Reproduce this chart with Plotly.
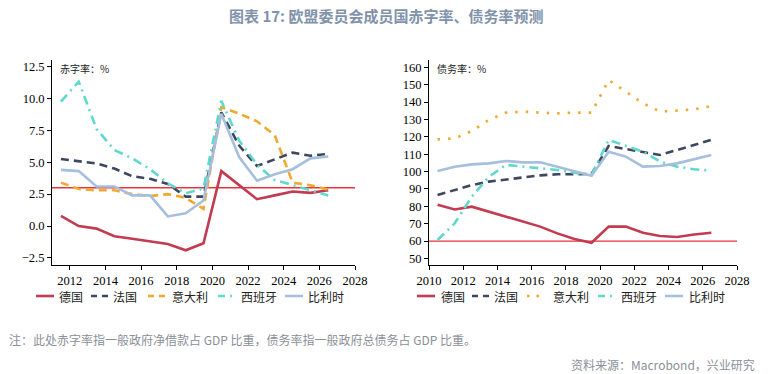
import plotly.graph_objects as go

# ---- data ----
years_def = list(range(2011, 2027))
years_debt = list(range(2010, 2027))
countries = ["德国", "法国", "意大利", "西班牙", "比利时"]

deficit_de = [0.8, 0.0, -0.2, -0.8, -1.0, -1.2, -1.4, -1.9, -1.35, 4.3, 3.2, 2.1, 2.4, 2.7, 2.6, 2.8]
deficit_fr = [5.25, 5.1, 4.9, 4.5, 3.9, 3.7, 3.3, 2.3, 2.3, 8.9, 6.3, 4.7, 5.2, 5.75, 5.5, 5.65]
deficit_it = [3.4, 2.9, 2.8, 2.8, 2.5, 2.35, 2.5, 2.2, 1.35, 9.3, 8.8, 8.2, 7.1, 3.4, 3.2, 2.85]
deficit_es = [9.75, 11.3, 7.6, 5.95, 5.3, 4.45, 3.35, 2.55, 2.95, 9.8, 6.7, 4.8, 3.6, 3.2, 2.85, 2.4]
deficit_be = [4.4, 4.3, 3.1, 3.1, 2.4, 2.4, 0.75, 1.0, 2.0, 8.8, 5.4, 3.55, 4.05, 4.45, 5.3, 5.45]

debt_de = [80.9, 78.2, 79.8, 76.9, 74.0, 71.1, 68.3, 64.4, 61.2, 59.0, 68.3, 68.3, 64.8, 62.9, 62.3, 63.8, 64.8]
debt_fr = [86.5, 89.4, 92.2, 94.2, 95.5, 96.5, 97.8, 98.4, 98.6, 98.6, 114.7, 113.0, 111.4, 109.5, 112.4, 115.3, 118.2]
debt_it = [118.5, 119.1, 123.3, 129.7, 133.9, 134.5, 133.9, 133.5, 133.9, 133.9, 152.7, 146.0, 139.3, 134.5, 135.0, 135.8, 137.7]
debt_es = [60.6, 70.2, 85.5, 97.0, 103.8, 102.8, 101.8, 100.9, 99.3, 98.0, 118.2, 114.9, 111.4, 105.7, 102.8, 101.3, 100.5]
debt_be = [100.3, 102.8, 104.1, 104.7, 106.1, 105.3, 105.3, 102.8, 100.5, 97.6, 111.4, 108.6, 102.8, 103.2, 104.7, 107.0, 109.5]

deficit_limit = 3.0
debt_limit = 60.0

colors = ["#C23B50", "#3D4760", "#F0A830", "#5ED9CB", "#A5BFDD"]

W, H = 771, 374
CJK = "Noto Sans CJK SC"
SERIF = "Liberation Serif"

fig = go.Figure()

def xs(years):
    return [y + 0.5 for y in years]

left_series = [deficit_de, deficit_fr, deficit_it, deficit_es, deficit_be]
left_dash = ["solid", "8px,5px", "8px,5px", "9px,5px,2px,5px", "solid"]
for name, vals, c, d in zip(countries, left_series, colors, left_dash):
    fig.add_trace(go.Scatter(x=xs(years_def), y=vals, mode="lines", name=name,
                             line=dict(color=c, width=2.6, dash=d),
                             xaxis="x", yaxis="y", showlegend=False))

right_series = [debt_de, debt_fr, debt_it, debt_es, debt_be]
right_dash = ["solid", "8px,5px", "2.5px,8px", "9px,5px,2px,5px", "solid"]
for name, vals, c, d in zip(countries, right_series, colors, right_dash):
    fig.add_trace(go.Scatter(x=xs(years_debt), y=vals, mode="lines", name=name,
                             line=dict(color=c, width=2.6, dash=d),
                             xaxis="x2", yaxis="y2", showlegend=False))

ytop = 1 - 60 / H
ybot = 1 - 265 / H
axis_common = dict(showgrid=False, zeroline=False, showline=True, linecolor="#000000",
                   linewidth=1, ticks="outside", ticklen=4, tickcolor="#000000",
                   automargin=False,
                   tickfont=dict(family=SERIF, size=12.5, color="#000000"))

shapes = [
    dict(type="line", xref="x domain", yref="y", x0=0, x1=1, y0=deficit_limit, y1=deficit_limit,
         line=dict(color="#E8323C", width=1.3), layer="below"),
    dict(type="line", xref="x2 domain", yref="y2", x0=0, x1=1, y0=debt_limit, y1=debt_limit,
         line=dict(color="#E8323C", width=1.3), layer="below"),
]
annotations = [
    dict(text="<b>图表 17: 欧盟委员会成员国赤字率、债务率预测</b>", xref="paper", yref="paper",
         x=0.5, y=1 - 15 / H, xanchor="center", yanchor="middle", showarrow=False,
         font=dict(family=CJK, size=15, color="#8192AA")),
    dict(text="赤字率：%", xref="paper", yref="paper", x=58 / W, y=1 - 68 / H,
         xanchor="left", yanchor="middle", showarrow=False,
         font=dict(family=CJK, size=10, color="#222")),
    dict(text="债务率：%", xref="paper", yref="paper", x=435 / W, y=1 - 68 / H,
         xanchor="left", yanchor="middle", showarrow=False,
         font=dict(family=CJK, size=10, color="#222")),
    dict(text="注：此处赤字率指一般政府净借款占 GDP 比重，债务率指一般政府总债务占 GDP 比重。",
         xref="paper", yref="paper", x=7 / W, y=1 - 339 / H, xanchor="left", yanchor="middle",
         showarrow=False, font=dict(family=CJK, size=12, color="#8A8F98")),
    dict(text="资料来源：Macrobond，兴业研究", xref="paper", yref="paper", x=757 / W,
         y=1 - 364 / H, xanchor="right", yanchor="middle", showarrow=False,
         font=dict(family=CJK, size=12, color="#8A8F98")),
]

# ---- manual legends (symbol start x, text start x in px) ----
leg_y = 1 - 296 / H
left_leg = [(36, 58), (91, 112), (148, 171), (218, 240), (285, 307)]
right_leg = [(417, 440), (472, 493), (527, 552), (598, 620), (665, 688)]
for legpos, dashes in ((left_leg, left_dash), (right_leg, right_dash)):
    for (sx, tx), name, c, d in zip(legpos, countries, colors, dashes):
        ld = d
        if d.startswith("8px"):
            ld = "6px,5px"
        elif d.startswith("9px"):
            ld = "7px,5px,2px,5px"
        elif d.startswith("2.5px"):
            ld = "2.5px,7px"
        shapes.append(dict(type="line", xref="paper", yref="paper",
                           x0=sx / W, x1=(sx + 18) / W, y0=leg_y, y1=leg_y,
                           line=dict(color=c, width=2.6, dash=ld)))
        annotations.append(dict(text=name, xref="paper", yref="paper", x=tx / W, y=leg_y,
                                xanchor="left", yanchor="middle", showarrow=False,
                                height=14, borderpad=0,
                                font=dict(family=CJK, size=12, color="#222")))

fig.update_layout(
    width=W, height=H, margin=dict(l=0, r=0, t=0, b=0, autoexpand=False),
    paper_bgcolor="white", plot_bgcolor="white",
    showlegend=False,
    xaxis=dict(domain=[52 / W, 355 / W], range=[2011, 2028], tick0=2012, dtick=2,
               anchor="y", **axis_common),
    yaxis=dict(domain=[ybot, ytop], range=[-3.05, 13.0], tick0=-2.5, dtick=2.5,
               tickformat=".1f", anchor="x", **axis_common),
    xaxis2=dict(domain=[429 / W, 737 / W], range=[2010, 2028], tick0=2010, dtick=2,
                anchor="y2", **axis_common),
    yaxis2=dict(domain=[ybot, ytop], range=[46.2, 164.2], tick0=50, dtick=10,
                anchor="x2", **axis_common),
    shapes=shapes,
    annotations=annotations,
)

fig.write_html("out.html", config={"displayModeBar": False},
               post_script="document.body.style.margin='0';document.body.style.overflow='hidden';")
